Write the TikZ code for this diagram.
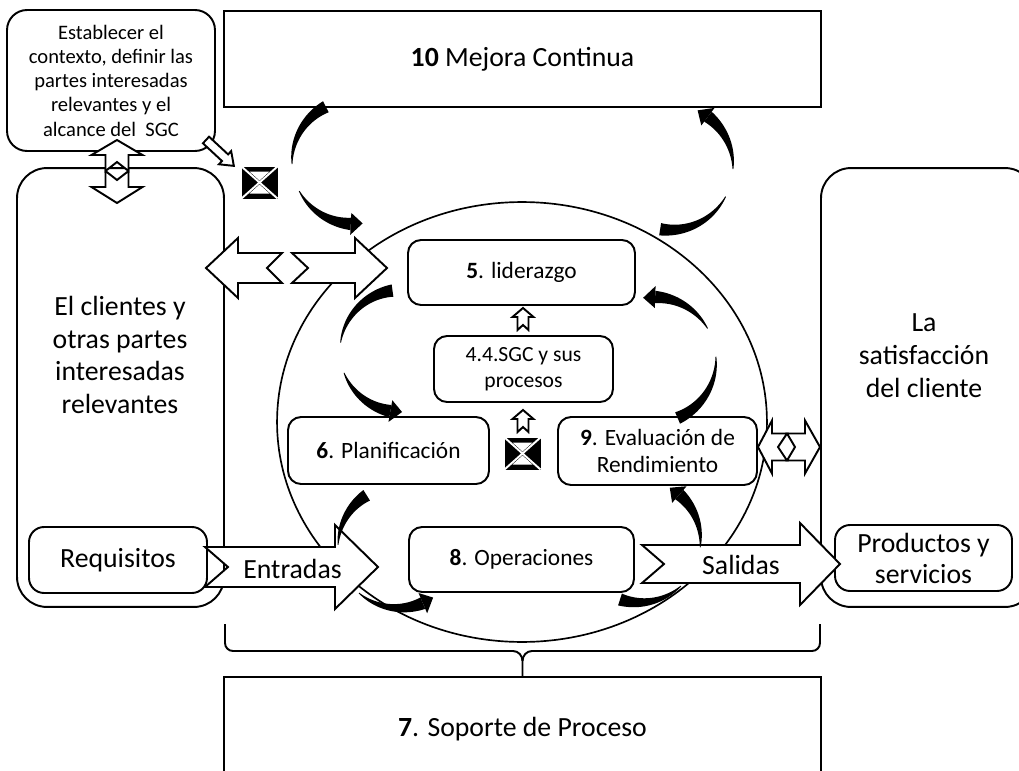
\documentclass[tikz,border=0pt]{standalone}
\usepackage{fontspec}
\setmainfont{Carlito}
\usetikzlibrary{shapes.geometric}
% tapered crescent along a circle: cx cy r thin-angle thick-angle
\newcommand\crs[5]{%
  \fill[black] plot[domain=#4:#5,samples=30,variable=\t]
    ({#1+(#3+(0.4+5.8*((\t)-(#4))/((#5)-(#4))))*cos(\t)},{#2+(#3+(0.4+5.8*((\t)-(#4))/((#5)-(#4))))*sin(\t)})
  -- plot[domain=#5:#4,samples=30,variable=\t]
    ({#1+(#3-(0.4+5.8*((\t)-(#4))/((#5)-(#4))))*cos(\t)},{#2+(#3-(0.4+5.8*((\t)-(#4))/((#5)-(#4))))*sin(\t)})
  -- cycle;}
% arrow head on crescent: cx cy r base-angle tip-angle
\newcommand\crh[5]{%
  \fill[black] ({#1+(#3+11)*cos(#4)},{#2+(#3+11)*sin(#4)}) -- ({#1+#3*cos(#5)},{#2+#3*sin(#5)}) -- ({#1+(#3-11)*cos(#4)},{#2+(#3-11)*sin(#4)}) -- cycle;}
% block arrow: x y angle length shaft-hw head-hw head-len notch
\newcommand\barrow[8]{%
  \draw[blk,shift={(#1,#2)},rotate={-1*(#3)}] (0,-#5) -- ({#4-#7},-#5) -- ({#4-#7},-#6) -- (#4,0) -- ({#4-#7},#6) -- ({#4-#7},#5) -- (0,#5) -- (#8,0) -- cycle;}
% gate symbol
\newcommand\gatesym[2]{%
  \fill[black] ({#1-18},{#2-16}) rectangle ({#1+18},{#2+16});
  \fill[white] ({#1-10},{#2-11}) -- ({#1+10},{#2-11}) -- (#1,{#2-2}) -- cycle;
  \fill[white] ({#1-10},{#2+11}) -- ({#1+10},{#2+11}) -- (#1,{#2+2}) -- cycle;
  \draw[white,line width=1.1pt] ({#1-18},{#2-16}) -- ({#1+18},{#2+16}) ({#1+18},{#2-16}) -- ({#1-18},{#2+16});}
\newcommand\fbig{\fontsize{15.8}{18.7}\selectfont}
\newcommand\fmid{\fontsize{13.3}{15.9}\selectfont}
\begin{document}
\begin{tikzpicture}[x=0.02cm,y=-0.02cm,
  rbox/.style={draw,line width=1.1pt,fill=white,rounded corners=0.26cm,inner sep=0pt,align=center,font=\fmid},
  bigbox/.style={draw,line width=1.1pt,fill=white,rounded corners=0.6cm,inner sep=0pt},
  sq/.style={draw,line width=1.1pt,fill=white,inner sep=0pt,align=center,font=\fbig},
  blk/.style={draw,line width=1.1pt,fill=white,line join=miter},
  bigtext/.style={align=center,font=\fbig,inner sep=0pt},
]
\useasboundingbox (0,0) rectangle (1019,771);
\fill[white] (0,0) rectangle (1019,771);
\begin{scope}
\clip (0,0) rectangle (1019,771);
% central cycle
\node[draw,ellipse,line width=0.95pt,minimum width=9.8cm,minimum height=8.8cm,inner sep=0pt] (pdca) at (522,422) {};
% side boxes
\node[bigbox,minimum width=4.14cm,minimum height=8.78cm] (cli) at (120.5,387.5) {};
\node[bigbox,minimum width=4.28cm,minimum height=8.78cm] (sat) at (928,387.5) {};
\node[bigtext] (clit) at (120,355) {El clientes y\\otras partes\\interesadas\\relevantes};
\node[bigtext] (satt) at (924,356) {La\\satisfacción\\del cliente};
\node[rbox,rounded corners=0.4cm,minimum width=4.16cm,minimum height=2.82cm,font=\fontsize{11.7}{13.8}\selectfont] (est) at (111,80.5) {Establecer el\\contexto, definir las\\partes interesadas\\relevantes y el\\alcance del\ \ SGC};
\node[sq,minimum width=11.94cm,minimum height=2.08cm] (sop) at (522.5,729) {\textbf{7}. Soporte de Proceso};
\node[rbox,rounded corners=0.3cm,minimum width=3.56cm,minimum height=1.32cm,font=\fbig] (req) at (118,560) {Requisitos};
\node[rbox,rounded corners=0.3cm,minimum width=3.54cm,minimum height=1.32cm,font=\fontsize{15.8}{17.6}\selectfont] (prod) at (923.5,558) {Productos y\\servicios};
% inner boxes
\node[rbox,minimum width=4.54cm,minimum height=1.30cm] (lid) at (521.5,272.5) {\textbf{5}. liderazgo};
\node[rbox,minimum width=3.58cm,minimum height=1.32cm,font=\fontsize{12.3}{14.8}\selectfont] (sgc) at (523.5,369) {4.4.SGC y sus\\procesos};
\node[rbox,minimum width=4.02cm,minimum height=1.34cm] (plan) at (388.5,450.5) {\textbf{6}. Planificación};
\node[rbox,minimum width=3.98cm,minimum height=1.36cm] (eval) at (657.5,451) {\textbf{9}. Evaluación de\\Rendimiento};
\node[rbox,minimum width=4.5cm,minimum height=1.3cm] (oper) at (521.5,559.5) {\textbf{8}. Operaciones};
% brace
\draw[line width=1.1pt] (225,624) -- (225,643) to[out=-90,in=180] (233,651) -- (513,651) to[out=0,in=90] (522.5,661) -- (sop.north);
\draw[line width=1.1pt] (820,624) -- (820,643) to[out=-90,in=0] (812,651) -- (532,651) to[out=180,in=90] (522.5,661);
% block arrows
\barrow{117}{171}{-90}{31}{11.5}{25.5}{15}{9}
\barrow{117}{171}{90}{32}{11.5}{25.5}{16}{9}
\barrow{282}{268}{180}{76}{15}{30}{32}{15}
\barrow{292}{268}{0}{95}{15}{30}{32}{16}
\barrow{787}{447}{180}{29}{13.5}{26.5}{14}{9}
\barrow{787}{447}{0}{33}{13.5}{26.5}{15}{8}
\barrow{205}{567}{0}{173}{20}{42}{43}{23}
\barrow{642}{564}{0}{198}{19}{41}{40}{22}
\barrow{206}{140}{42.9}{38}{4.5}{9}{12}{0}
\barrow{523}{330}{-90}{22}{5.5}{10.5}{9}{5}
\barrow{523}{432}{-90}{22}{5.5}{10.5}{9}{5}
\node[bigtext] (ent) at (292.5,569) {Entradas};
\node[bigtext] (sal) at (741,565) {Salidas};
% gates
\gatesym{259.5}{182.5}
\gatesym{522.5}{453.5}
% top box
\node[sq,minimum width=11.94cm,minimum height=1.92cm] (mej) at (522.5,59) {\textbf{10} Mejora Continua};
% curved arrows
\crs{354}{162}{62}{178}{243}
\crs{354}{162}{62}{152}{93} \crh{354}{162}{62}{93}{82}
\crs{670}{167}{63}{2}{-53} \crh{670}{167}{63}{-53}{-64}
\crs{670}{167}{63}{28}{99}
\crs{401}{351}{61}{188}{262}
\crs{401}{351}{61}{159}{100} \crh{401}{351}{61}{100}{89}
\crs{653}{360}{63}{-30}{-88} \crh{653}{360}{63}{-88}{-99}
\crs{653}{360}{63}{-3}{67}
\crs{399}{547}{61}{182}{238}
\crs{399}{547}{61}{131}{67} \crh{399}{547}{61}{67}{56}
\crs{639}{541}{61.5}{6}{-49} \crh{639}{541}{61.5}{-49}{-60}
\crs{639}{541}{61.5}{47}{108}
\end{scope}
\end{tikzpicture}
\end{document}
